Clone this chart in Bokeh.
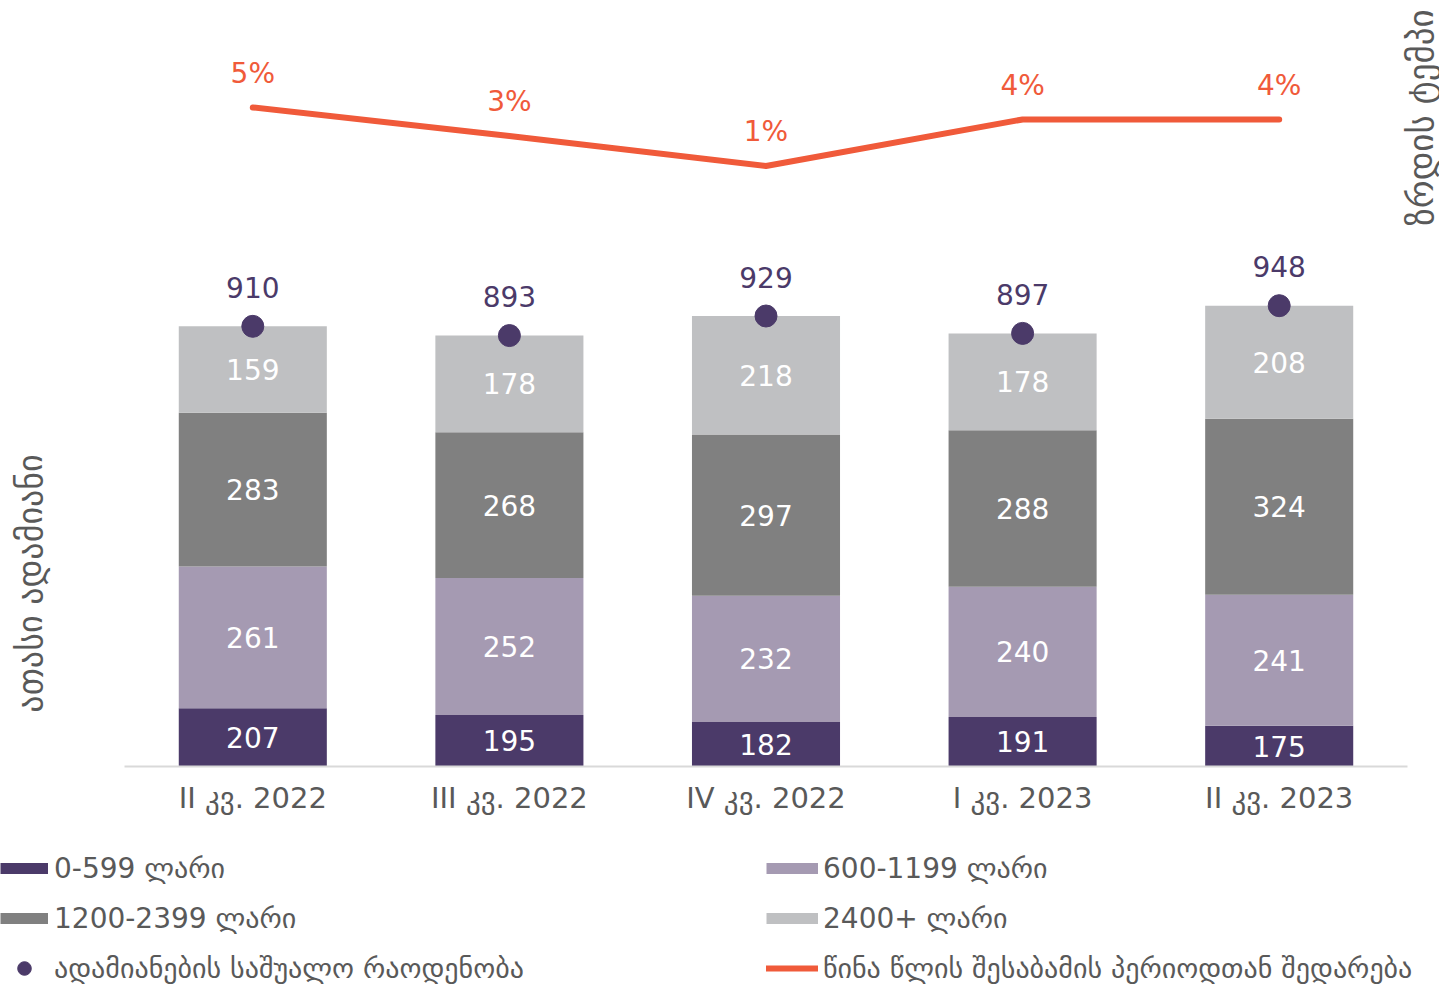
import math
from bokeh.plotting import figure
from bokeh.models import (ColumnDataSource, Range1d, Legend, LegendItem, Label, FixedTicker)
from bokeh.embed import file_html
from bokeh.resources import INLINE

# ---- data ----
quarters = ["II კვ. 2022", "III კვ. 2022", "IV კვ. 2022", "I კვ. 2023", "II კვ. 2023"]
band_0_599 = [207, 195, 182, 191, 175]
band_600_1199 = [261, 252, 232, 240, 241]
band_1200_2399 = [283, 268, 297, 288, 324]
band_2400_plus = [159, 178, 218, 178, 208]
totals = [910, 893, 929, 897, 948]
growth_pct = [5.0, 3.1, 1.1, 4.2, 4.2]

series_names = ["0-599 ლარი", "600-1199 ლარი", "1200-2399 ლარი", "2400+ ლარი"]
total_name = "ადამიანების საშუალო რაოდენობა"
growth_name = "წინა წლის შესაბამის პერიოდთან შედარება"
left_title = "ათასი ადამიანი"
right_title = "ზრდის ტემპი"

# ---- styles ----
FONT = "DejaVu Sans"
PURPLE = "#4B3A69"
colors = ["#4B3A69", "#A59AB2", "#808080", "#BFC0C2"]
ORANGE = "#F05A3A"
TXT = "#595959"
SLOT = 256.6                      # px per category slot
Y0, Y1 = 100, 1509.6              # primary axis range (axis starts at 100)
G0, G1 = -38.93, 12.13            # growth axis range
X0, X1 = -0.5 - 124 / SLOT, 4.5 + 32 / SLOT

xs = list(range(len(quarters)))
layers = [band_0_599, band_600_1199, band_1200_2399, band_2400_plus]
keys = ["b0", "b1", "b2", "b3"]
data = dict(x=xs, total=totals, g=growth_pct,
            total_txt=[str(t) for t in totals],
            g_txt=[f"{round(g)}%" for g in growth_pct])
for k, l in zip(keys, layers):
    data[k] = l
src = ColumnDataSource(data)

p = figure(x_range=Range1d(X0, X1), y_range=Range1d(Y0, Y1), width=1439, height=820,
           output_backend="svg", toolbar_location=None, y_axis_location=None,
           min_border_left=0, min_border_right=0, min_border_top=0, min_border_bottom=54)
p.extra_y_ranges = {"g": Range1d(G0, G1)}

p.vbar_stack(keys, x="x", width=0.577, fill_color=colors, line_color=None, source=src)

# segment labels: centred on the visible part of each segment
cum = [0] * len(quarters)
for i, l in enumerate(layers):
    ys = [(max(c, Y0) + c + v) / 2 for c, v in zip(cum, l)]
    cum = [c + v for c, v in zip(cum, l)]
    s = ColumnDataSource(dict(x=xs, y=ys, t=[str(v) for v in l]))
    p.text(x="x", y="y", text="t", source=s, text_align="center", text_baseline="middle",
           text_color="white", text_font_size="28px", text_font={"value": FONT})

p.line(x="x", y="g", y_range_name="g", source=src, line_color=ORANGE, line_width=6,
       line_join="round", line_cap="round")
p.text(x="x", y="g", y_range_name="g", text="g_txt", source=src, text_align="center",
       text_baseline="middle", text_color=ORANGE, text_font_size="28px",
       text_font={"value": FONT}, y_offset=-34)

p.scatter(x="x", y="total", source=src, size=22, color=PURPLE)
p.text(x="x", y="total", text="total_txt", source=src, text_align="center",
       text_baseline="middle", text_color=PURPLE, text_font_size="28px",
       text_font={"value": FONT}, y_offset=-39)

# x axis
p.xaxis.ticker = FixedTicker(ticks=xs)
p.xaxis.major_label_overrides = {i: q for i, q in zip(xs, quarters)}
p.xaxis.bounds = (-0.5, len(quarters) - 0.5)
p.xaxis.axis_line_color = "#D9D9D9"
p.xaxis.axis_line_width = 2
p.xaxis.major_tick_line_color = None
p.xaxis.minor_tick_line_color = None
p.xaxis.major_label_text_font_size = "29px"
p.xaxis.major_label_text_color = TXT
p.xaxis.major_label_text_font = FONT
p.xaxis.major_label_standoff = 8

# axis titles
p.add_layout(Label(x=29, y=183, x_units="screen", y_units="screen", angle=math.pi / 2,
                   text=left_title, text_align="center", text_baseline="middle",
                   text_font=FONT, text_font_size="34px", text_color=TXT))
p.add_layout(Label(x=1420, y=649, x_units="screen", y_units="screen", angle=math.pi / 2,
                   text=right_title, text_align="center", text_baseline="middle",
                   text_font=FONT, text_font_size="35px", text_color=TXT))

p.xgrid.visible = False
p.ygrid.visible = False
p.outline_line_color = None

# ---- legend panel ----
lf = figure(width=1439, height=165, x_range=Range1d(0, 1), y_range=Range1d(0, 1),
            output_backend="svg", toolbar_location=None, x_axis_location=None,
            y_axis_location=None, min_border=0)
lf.grid.visible = False
lf.outline_line_color = None
sw = [lf.line(x=[-1], y=[-1], line_width=11, line_color=c, line_cap="butt") for c in colors]
dot_sw = lf.scatter(x=[-1], y=[-1], size=14, color=PURPLE)
line_sw = lf.line(x=[-1], y=[-1], line_width=6, line_color=ORANGE, line_cap="round")


def mk_legend(items, loc, gw, standoff):
    return Legend(items=items, location=loc, glyph_width=gw, glyph_height=34,
                  label_height=34, spacing=16, padding=0, margin=0, border_line_color=None,
                  background_fill_alpha=0, label_text_font_size="28px",
                  label_text_color=TXT, label_standoff=standoff, label_text_font=FONT)


lf.add_layout(mk_legend([LegendItem(label=series_names[0], renderers=[sw[0]]),
                         LegendItem(label=series_names[2], renderers=[sw[2]]),
                         LegendItem(label=total_name, renderers=[dot_sw])], (0, 0), 48, 6))
lf.add_layout(mk_legend([LegendItem(label=series_names[1], renderers=[sw[1]]),
                         LegendItem(label=series_names[3], renderers=[sw[3]]),
                         LegendItem(label=growth_name, renderers=[line_sw])], (766, 0), 52, 5))

open("out.html", "w").write(file_html([p, lf], INLINE))
